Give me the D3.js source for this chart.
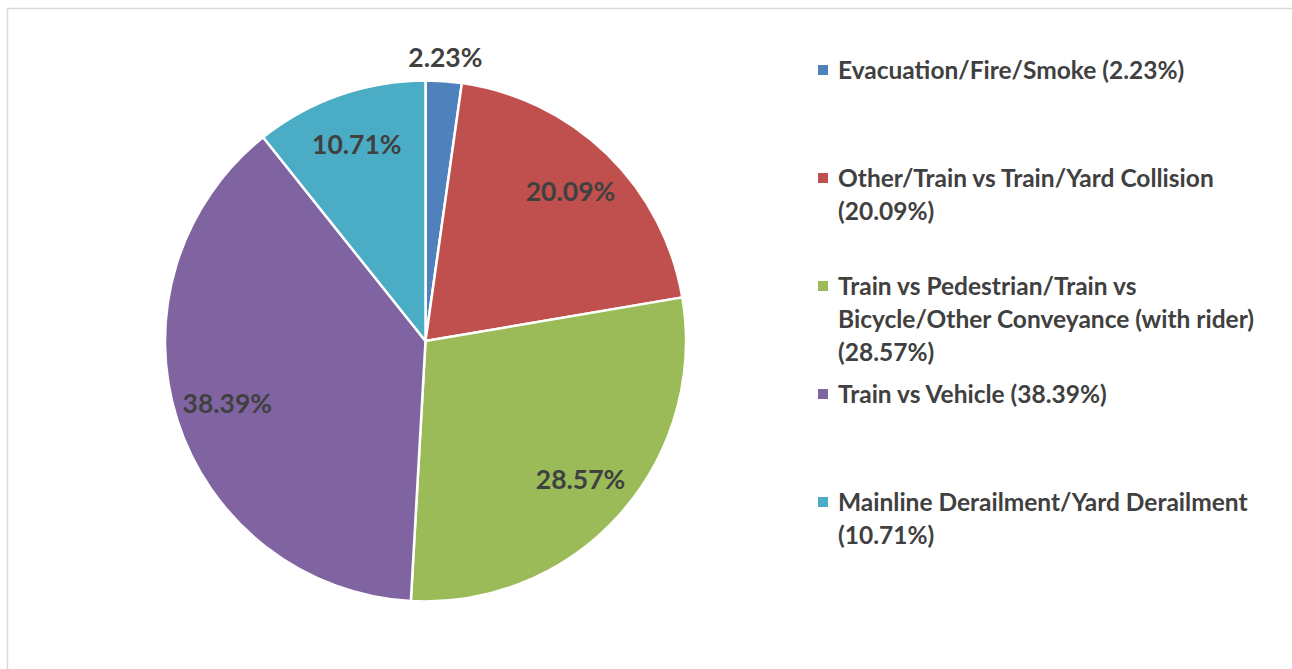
<!DOCTYPE html>
<html>
<head>
<meta charset="utf-8">
<script src="https://cdn.jsdelivr.net/npm/d3@7"></script>
<style>
  body { margin: 0; background: #fff; }
  text { font-family: Lato, "Open Sans", sans-serif; font-weight: bold; fill: #404040; }
</style>
</head>
<body>
<div id="chart"></div>
<script>
var categories = [
  "Evacuation/Fire/Smoke",
  "Other/Train vs Train/Yard Collision",
  "Train vs Pedestrian/Train vs Bicycle/Other Conveyance (with rider)",
  "Train vs Vehicle",
  "Mainline Derailment/Yard Derailment"
];
var values = [2.23, 20.09, 28.57, 38.39, 10.71];
var colors = ["#4f81bd", "#c0504d", "#9bbb59", "#8064a2", "#4bacc6"];
// legend text as it wraps in the picture
var legendLines = [
  ["Evacuation/Fire/Smoke (2.23%)"],
  ["Other/Train vs Train/Yard Collision", "(20.09%)"],
  ["Train vs Pedestrian/Train vs", "Bicycle/Other Conveyance (with rider)", "(28.57%)"],
  ["Train vs Vehicle (38.39%)"],
  ["Mainline Derailment/Yard Derailment", "(10.71%)"]
];
var legendY = [70, 178, 286, 394, 502];

var width = 1292, height = 669;
var cx = 425.5, cy = 341, radius = 260.5;

var svg = d3.select("#chart").append("svg")
  .attr("width", width)
  .attr("height", height);

// chart area border
svg.append("rect")
  .attr("x", 7.5).attr("y", 8.5)
  .attr("width", 1290).attr("height", 680)
  .attr("fill", "none")
  .attr("stroke", "#d9d9d9")
  .attr("stroke-width", 1.5);

var pie = d3.pie().sort(null).value(function(d) { return d; });
var arcs = pie(values);
var arc = d3.arc().innerRadius(0).outerRadius(radius);
var labelArc = d3.arc().innerRadius(208).outerRadius(208);
var outerArc = d3.arc().innerRadius(284).outerRadius(284);

var g = svg.append("g").attr("transform", "translate(" + cx + "," + cy + ")");

g.selectAll("path.slice")
  .data(arcs)
  .enter()
  .append("path")
  .attr("class", "slice")
  .attr("d", arc)
  .attr("fill", function(d, i) { return colors[i]; })
  .attr("stroke", "#fff")
  .attr("stroke-width", 2.5)
  .attr("stroke-linejoin", "round");

g.selectAll("text.lbl")
  .data(arcs)
  .enter()
  .append("text")
  .attr("class", "lbl")
  .attr("transform", function(d) {
    // small slice gets its label outside the pie
    var c = (d.value < 5 ? outerArc : labelArc).centroid(d);
    return "translate(" + c[0] + "," + c[1] + ")";
  })
  .attr("text-anchor", "middle")
  .attr("dy", "0.35em")
  .style("font-size", "26.5px")
  .text(function(d) { return d.value.toFixed(2) + "%"; });

var legend = svg.append("g");
var items = legend.selectAll("g.item")
  .data(categories)
  .enter()
  .append("g")
  .attr("class", "item")
  .attr("transform", function(d, i) { return "translate(818," + legendY[i] + ")"; });

items.append("rect")
  .attr("x", 0).attr("y", -5)
  .attr("width", 10).attr("height", 10)
  .attr("fill", function(d, i) { return colors[i]; });

items.each(function(d, i) {
  var t = d3.select(this).append("text")
    .style("font-size", "24.5px");
  legendLines[i].forEach(function(line, j) {
    t.append("tspan")
      .attr("x", 20)
      .attr("y", j * 33)
      .attr("dy", "0.35em")
      .text(line);
  });
});
</script>
</body>
</html>
